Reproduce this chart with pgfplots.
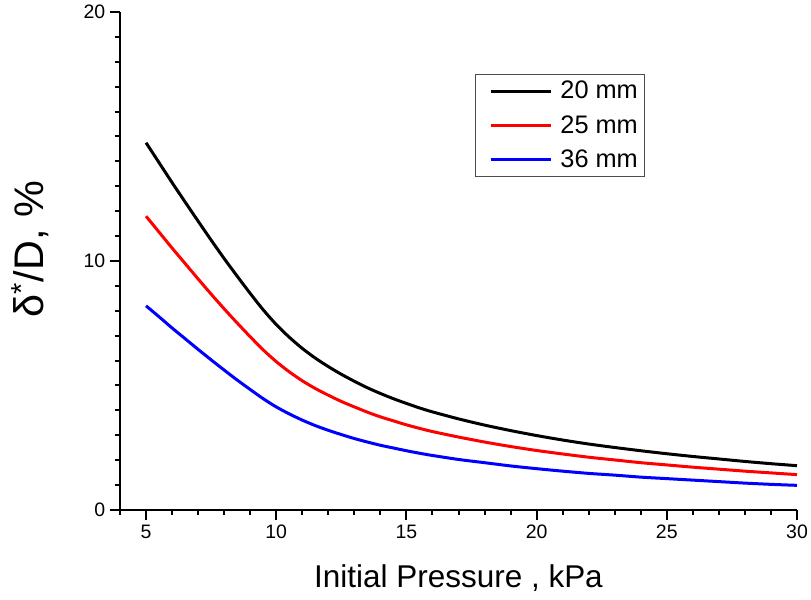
\documentclass[border=0pt]{standalone}
\usepackage{pgfplots}
\pgfplotsset{compat=1.18}
\usepackage{fontspec}
\setmainfont{Liberation Sans}
\pgfplotstableread{
x black red blue
5.0 14.75 11.80 8.20
5.5 13.95 11.16 7.76
6.0 13.15 10.52 7.31
6.5 12.37 9.90 6.88
7.0 11.60 9.28 6.45
7.5 10.84 8.67 6.03
8.0 10.10 8.08 5.62
8.5 9.39 7.51 5.22
9.0 8.70 6.96 4.84
9.5 8.04 6.43 4.47
10.0 7.45 5.96 4.14
10.5 6.94 5.55 3.86
11.0 6.49 5.19 3.61
11.5 6.10 4.88 3.39
12.0 5.76 4.61 3.20
12.5 5.45 4.36 3.03
13.0 5.17 4.14 2.87
13.5 4.91 3.93 2.73
14.0 4.68 3.74 2.60
14.5 4.47 3.58 2.49
15.0 4.28 3.42 2.38
15.5 4.10 3.28 2.28
16 3.94 3.15 2.19
17 3.66 2.93 2.03
18 3.41 2.73 1.90
19 3.19 2.55 1.77
20 2.99 2.39 1.66
21 2.81 2.25 1.56
22 2.65 2.12 1.47
23 2.51 2.01 1.40
24 2.38 1.90 1.32
25 2.26 1.81 1.26
26 2.15 1.72 1.20
27 2.05 1.64 1.14
28 1.95 1.56 1.08
29 1.86 1.49 1.03
30 1.78 1.42 0.99
}\datatable
\begin{document}
\begin{tikzpicture}
\useasboundingbox (-90pt,-67.5pt) rectangle (518.25pt,382.5pt);
\begin{axis}[
  at={(0,0)}, anchor=south west,
  scale only axis, width=507.75pt, height=373.5pt,
  xmin=4, xmax=30, ymin=0, ymax=20,
  axis x line*=bottom, axis y line*=left,
  axis line style={line width=1.5pt,-},
  xtick={5,10,...,30}, ytick={0,10,20},
  minor xtick={4,...,30}, minor ytick={0,...,20},
  tick align=outside,
  major tick length=7.5pt, minor tick length=3.75pt,
  every tick/.style={line width=1.5pt, black},
  /pgf/number format/assume math mode=true,
  ticklabel style={font=\fontsize{14.6}{17}\selectfont},
  xlabel={Initial Pressure , kPa},
  ylabel={δ\textsuperscript{*}/D, \%},
  xlabel style={font=\fontsize{23.6}{28}\selectfont, at={(axis description cs:0.5,-0.137)}, anchor=center},
  ylabel style={font=\fontsize{31}{36}\selectfont, at={(axis description cs:-0.133,0.524)}, anchor=center},
  legend style={at={(axis description cs:0.7755,0.8755)}, anchor=north east,
    draw=black!70, line width=0.75pt, font=\fontsize{19}{22}\selectfont,
    nodes={inner sep=0pt},
    row sep=11pt, column sep=0pt, inner xsep=5pt, inner ysep=5pt},
  legend cell align=left,
  legend image code/.code={\path (-5.5pt,0pt) (51pt,0pt); \draw[#1] (0pt,0pt) -- (45pt,0pt);},
]
\addplot[black, line width=2.25pt, smooth] table[x=x, y=black] {\datatable};
\addplot[red, line width=2.25pt, smooth] table[x=x, y=red] {\datatable};
\addplot[blue, line width=2.25pt, smooth] table[x=x, y=blue] {\datatable};
\legend{20 mm, 25 mm, 36 mm}
\end{axis}
\end{tikzpicture}
\end{document}
